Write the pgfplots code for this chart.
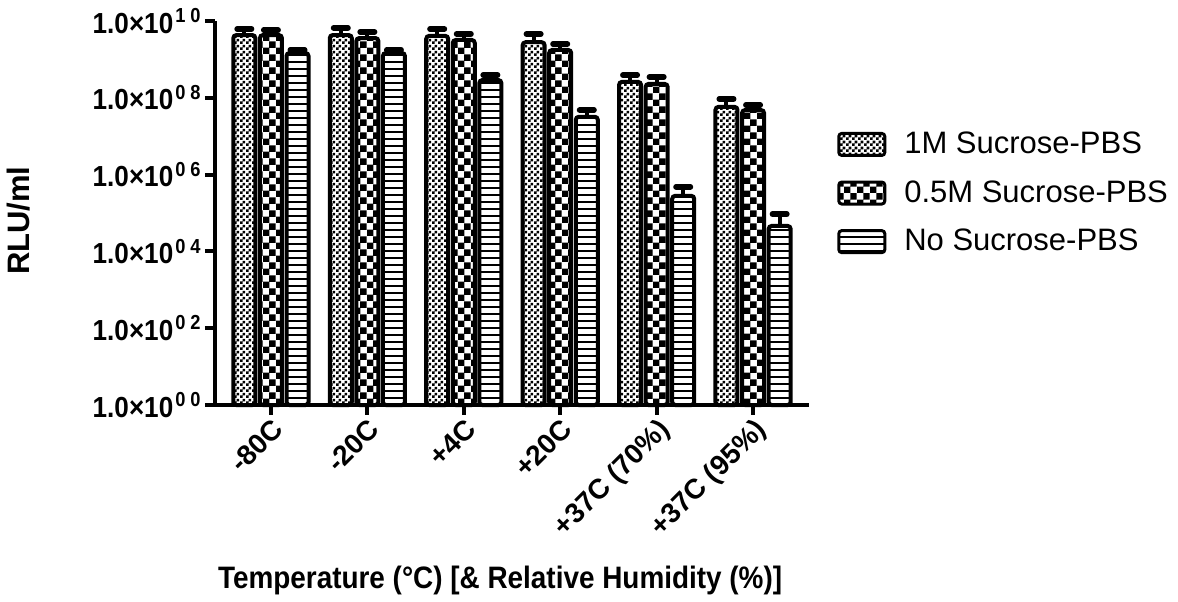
\documentclass[border=0pt]{standalone}
\usepackage{pgfplots}
\pgfplotsset{compat=1.18}
\usepackage{pgfplotstable}
\usepackage{fontspec}
\setmainfont{Liberation Sans}
\newfontfamily\narrowbold{Liberation Sans}[FakeStretch=0.9, BoldFont={Liberation Sans Bold}]
\usetikzlibrary{patterns}

\pgfdeclarepatternformonly{finecheck}{\pgfqpoint{0pt}{0pt}}{\pgfqpoint{3bp}{3bp}}{\pgfqpoint{3bp}{3bp}}{%
  \pgfpathrectangle{\pgfqpoint{0pt}{0pt}}{\pgfqpoint{1.55bp}{1.55bp}}%
  \pgfpathrectangle{\pgfqpoint{1.5bp}{1.5bp}}{\pgfqpoint{1.55bp}{1.55bp}}%
  \pgfusepath{fill}}
\pgfdeclarepatternformonly{coarsecheck}{\pgfqpoint{0pt}{0pt}}{\pgfqpoint{6.6bp}{6.6bp}}{\pgfqpoint{6.6bp}{6.6bp}}{%
  \pgfpathrectangle{\pgfqpoint{0pt}{0pt}}{\pgfqpoint{3.35bp}{3.35bp}}%
  \pgfpathrectangle{\pgfqpoint{3.3bp}{3.3bp}}{\pgfqpoint{3.35bp}{3.35bp}}%
  \pgfusepath{fill}}
\pgfdeclarepatternformonly{hlinespat}{\pgfqpoint{0pt}{0pt}}{\pgfqpoint{1bp}{3.5bp}}{\pgfqpoint{1bp}{3.5bp}}{%
  \pgfpathrectangle{\pgfqpoint{-0.05bp}{0pt}}{\pgfqpoint{1.1bp}{1.1bp}}%
  \pgfusepath{fill}}

\pgfplotstableread{
x y e
0 4.3e9 1.9e9
1 4.3e9 2.3e9
2 4.1e9 2.1e9
3 2.8e9 1.8e9
4 2.6e8 1.3e8
5 5.8e7 3.5e7
}\tA
\pgfplotstableread{
x y e
0 4.3e9 1.5e9
1 3.6e9 1.6e9
2 3.2e9 1.4e9
3 1.76e9 0.75e9
4 2.3e8 1.2e8
5 4.8e7 1.7e7
}\tB
\pgfplotstableread{
x y e
0 1.47e9 0.3e9
1 1.47e9 0.3e9
2 2.9e8 1.0e8
3 3.2e7 1.6e7
4 2.8e5 2.0e5
5 4.6e4 4.7e4
}\tC

\pgfplotsset{
  errstyle/.style={error bars/.cd, y dir=plus, y explicit, error mark=|,
    error bar style={line width=2bp, black, rounded corners=0pt},
    error mark options={line width=2.8bp, mark size=3.6bp, black, line cap=round, rounded corners=0pt}},
}
\newcommand{\ex}[2]{\textsuperscript{\hspace{1bp}#1\hspace{2.5bp}#2}}

\begin{document}
\begin{tikzpicture}
\useasboundingbox (-107.5bp,-98.5bp) rectangle (481.5bp,202.5bp);
\begin{axis}[
  at={(0,0)}, anchor=south west,
  scale only axis, width=297bp, height=192bp,
  ymode=log, ymin=1, ymax=1e10,
  xmin=-0.58, xmax=5.58,
  ybar=2.3bp, bar width=0.228,
  clip=false,
  axis lines*=left,
  axis line style={line width=2bp, black},
  every tick/.style={line width=2bp, black},
  major tick length=5bp,
  tick align=outside,
  xtick={0,1,2,3,4,5},
  xticklabels={-80C,-20C,+4C,+20C,+37C (70\%),+37C (95\%)},
  x tick label style={rotate=45, anchor=north east, font=\bfseries\fontsize{14bp}{16bp}\selectfont, inner sep=0.5bp},
  ytick={1,1e2,1e4,1e6,1e8,1e10},
  minor ytick={},
  yticklabels={{1.0×10\ex{0}{0}},{1.0×10\ex{0}{2}},{1.0×10\ex{0}{4}},{1.0×10\ex{0}{6}},{1.0×10\ex{0}{8}},{1.0×10\ex{1}{0}}},
  y tick label style={font=\narrowbold\bfseries\fontsize{14.5bp}{16bp}\selectfont, inner sep=1.5bp},
  xlabel={Temperature (°C) [\& Relative Humidity (\%)]},
  xlabel style={at={(axis description cs:0.48,-0.456)}, anchor=center, font=\narrowbold\bfseries\fontsize{15.5bp}{18bp}\selectfont},
  ylabel={RLU/ml},
  ylabel style={at={(axis description cs:-0.33,0.48)}, anchor=center, font=\bfseries\fontsize{15.5bp}{18bp}\selectfont},
  legend image code/.code={\draw[#1, line width=1.5bp, rounded corners=1.5bp] (0bp,-5.5bp) rectangle (23bp,5.5bp);},
  legend style={at={(axis description cs:1.047,0.552)}, anchor=west, draw=none, fill=none, inner sep=0pt,
    font=\fontsize{15.5bp}{18bp}\selectfont, row sep=8bp,
    /tikz/every odd column/.style={column sep=7bp}},
  legend cell align=left,
]
\addplot[draw=black, pattern=finecheck, line width=2bp, rounded corners=1.5bp, errstyle]
  table[x=x, y=y, y error=e]{\tA};
\addlegendentry{1M Sucrose-PBS}
\addplot[draw=black, pattern=coarsecheck, line width=2bp, rounded corners=1.5bp, errstyle]
  table[x=x, y=y, y error=e]{\tB};
\addlegendentry{0.5M Sucrose-PBS}
\addplot[draw=black, pattern=hlinespat, line width=2bp, rounded corners=1.5bp, errstyle]
  table[x=x, y=y, y error=e]{\tC};
\addlegendentry{No Sucrose-PBS}
\end{axis}
\end{tikzpicture}
\end{document}
